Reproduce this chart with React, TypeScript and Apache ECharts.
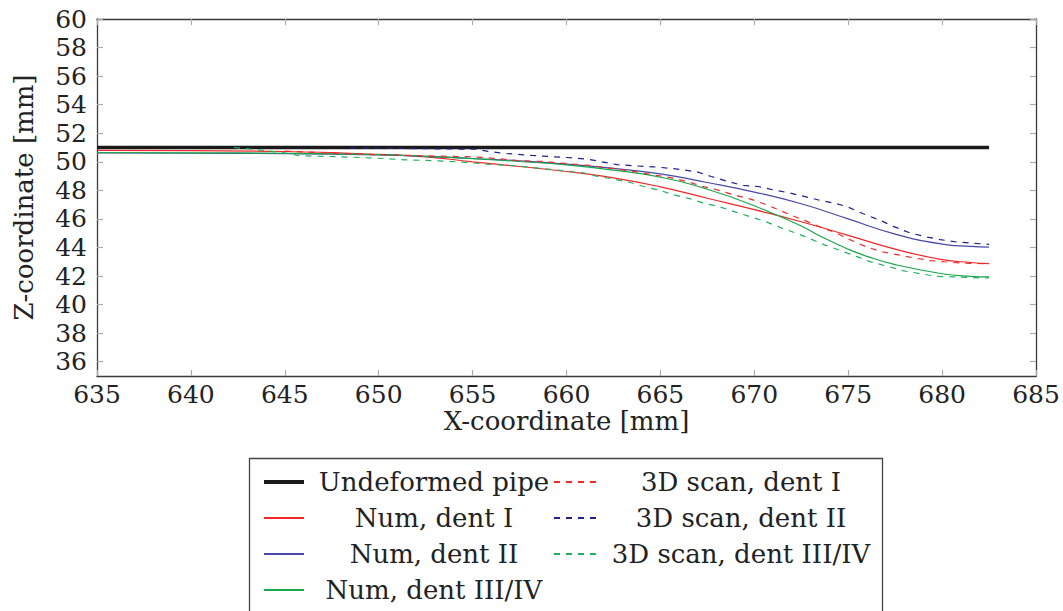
import React, { useEffect, useRef } from "react";
import * as echarts from "echarts";

const FONT = "DejaVu Serif";

const xTicks = [635, 640, 645, 650, 655, 660, 665, 670, 675, 680, 685];
const yTicks = [36, 38, 40, 42, 44, 46, 48, 50, 52, 54, 56, 58, 60];

const undeformedPipe = [[635, 51.0], [682.5, 51.0]];

const numDentI = [
  [635, 50.8], [640, 50.78], [645, 50.72], [650, 50.52], [652.5, 50.35], [655, 50.0],
  [657.5, 49.67], [660, 49.32], [662.5, 48.88], [665, 48.25], [667.5, 47.45], [670, 46.65],
  [672.5, 45.8], [675, 44.85], [677.5, 43.88], [680, 43.15], [681.5, 42.95], [682.5, 42.87],
];

const numDentII = [
  [635, 50.62], [640, 50.6], [645, 50.57], [650, 50.48], [652.5, 50.38], [655, 50.23],
  [657.5, 50.07], [660, 49.84], [662.5, 49.54], [665, 49.15], [667.5, 48.55], [670, 47.88],
  [672.5, 47.06], [675, 46.0], [677.5, 44.94], [680, 44.24], [681.5, 44.08], [682.5, 44.03],
];

const numDentIII = [
  [635, 50.65], [640, 50.63], [645, 50.6], [650, 50.5], [652.5, 50.38], [655, 50.22],
  [657.5, 50.02], [660, 49.78], [662.5, 49.42], [665, 48.92], [667.5, 48.08], [670, 46.92],
  [672.5, 45.5], [673.5, 44.8], [675, 43.88], [676, 43.38], [677.5, 42.8], [680, 42.16],
  [681.5, 41.98], [682.5, 41.94],
];

const scanDentI = [
  [645, 50.75], [647.5, 50.6], [650, 50.5], [652.5, 50.42], [655, 50.35], [655.6, 50.3],
  [656.5, 50.2], [657.4, 50.09], [658.8, 50.02], [659.5, 49.93], [661.3, 49.74], [662.3, 49.56],
  [663.6, 49.32], [664.6, 49.09], [665.7, 48.86], [666.6, 48.55], [667.1, 48.33], [668.0, 48.04],
  [668.9, 47.69], [669.8, 47.39], [670.5, 47.06], [671.2, 46.69], [671.9, 46.29], [672.8, 45.83],
  [673.5, 45.43], [674.4, 45.0], [675, 44.6], [675.9, 44.08], [676.7, 43.73], [677.6, 43.5],
  [678.5, 43.27], [679.4, 43.08], [680.1, 43.0], [680.9, 42.92], [682.5, 42.85],
];

const scanDentII = [
  [648.5, 50.97], [651.5, 50.93], [655.2, 50.88], [655.9, 50.72], [656.8, 50.58], [658.2, 50.44],
  [660.0, 50.3], [661.1, 50.19], [661.8, 50.02], [662.7, 49.8], [663.6, 49.72], [664.6, 49.65],
  [665.4, 49.56], [666.2, 49.44], [667.0, 49.28], [667.7, 48.97], [668.6, 48.62], [669.4, 48.34],
  [670.2, 48.27], [671.0, 48.04], [671.9, 47.81], [672.8, 47.53], [673.5, 47.3], [674.4, 47.06],
  [674.95, 46.85], [675.8, 46.36], [676.7, 45.9], [677.4, 45.48], [678.3, 45.01], [679.2, 44.73],
  [679.9, 44.55], [680.8, 44.38], [681.7, 44.29], [682.5, 44.22],
];

const scanDentIII = [
  [642.3, 51.0], [643.5, 50.85], [645, 50.62], [645.8, 50.42], [648, 50.35], [650, 50.25],
  [651.4, 50.14], [653.2, 50.07], [654.4, 49.98], [655.8, 49.84], [657.3, 49.72], [658.5, 49.56],
  [659.9, 49.37], [660.9, 49.22], [661.6, 49.0], [662.5, 48.79], [663.4, 48.55], [664.1, 48.27],
  [665.0, 47.99], [665.7, 47.69], [666.6, 47.4], [667.3, 47.11], [668.2, 46.83], [669.0, 46.48],
  [669.9, 46.11], [670.7, 45.76], [671.5, 45.34], [672.3, 44.97], [673.0, 44.6], [673.8, 44.15],
  [674.6, 43.78], [675.5, 43.34], [676.2, 42.99], [677.1, 42.68], [677.9, 42.38], [678.8, 42.17],
  [679.7, 41.98], [680.6, 41.94], [682.0, 41.87], [682.5, 41.87],
];

const DASH = [6, 6];

export default function App() {
  const ref = useRef<HTMLDivElement>(null);
  useEffect(() => {
    if (!ref.current) return;
    const chart = echarts.init(ref.current, null, { renderer: "svg" });
    const axisLineStyle = { color: "#3a3a3a", width: 1.3 };
    const tickStyle = { color: "#aaaaaa", width: 1.2 };
    const mkLine = (name: string, data: number[][], color: string, width: number, dashed: boolean, smooth: boolean) => ({
      name,
      type: "line",
      data,
      symbol: "none",
      showSymbol: false,
      smooth,
      lineStyle: { color, width, type: dashed ? DASH : "solid" },
      itemStyle: { color },
      xAxisIndex: 0,
      yAxisIndex: 0,
    });
    const legendText = (w: number) => ({
      rich: {
        a: { width: w, align: "center", fontSize: 26, fontFamily: FONT, color: "#222", lineHeight: 26 },
      },
    });
    chart.setOption({
      animation: false,
      backgroundColor: "#ffffff",
      grid: { left: 97, top: 19, right: 27, bottom: 235 },
      xAxis: [
        {
          type: "value", min: 635, max: 685, interval: 5, position: "bottom",
          name: "X-coordinate [mm]", nameLocation: "middle", nameGap: 34, nameMoveOverlap: false,
          nameTextStyle: { fontFamily: FONT, fontSize: 26, color: "#222", lineHeight: 22 },
          axisLine: { show: true, lineStyle: axisLineStyle },
          axisTick: { show: true, inside: true, length: 6, lineStyle: tickStyle },
          axisLabel: { show: true, fontFamily: FONT, fontSize: 25, color: "#222", margin: 8, lineHeight: 20, customValues: xTicks },
          splitLine: { show: false },
        },
        {
          type: "value", min: 635, max: 685, interval: 5, position: "top",
          axisLine: { show: true, onZero: false, lineStyle: axisLineStyle },
          axisTick: { show: true, inside: true, length: 6, lineStyle: tickStyle },
          axisLabel: { show: false },
          splitLine: { show: false },
        },
      ],
      yAxis: [
        {
          type: "value", min: 35, max: 60, position: "left",
          name: "Z-coordinate [mm]", nameLocation: "middle", nameGap: 60, nameMoveOverlap: false,
          nameTextStyle: { fontFamily: FONT, fontSize: 26, color: "#222" },
          axisLine: { show: true, lineStyle: axisLineStyle },
          axisTick: { show: true, inside: true, length: 6, lineStyle: tickStyle, customValues: yTicks },
          axisLabel: { show: true, fontFamily: FONT, fontSize: 25, color: "#222", margin: 10, customValues: yTicks },
          splitLine: { show: false },
        },
        {
          type: "value", min: 35, max: 60, position: "right",
          axisLine: { show: true, onZero: false, lineStyle: axisLineStyle },
          axisTick: { show: true, inside: true, length: 6, lineStyle: tickStyle, customValues: yTicks },
          axisLabel: { show: false, customValues: yTicks },
          splitLine: { show: false },
        },
      ],
      legend: [
        {
          orient: "vertical", left: 262, top: 469, padding: 0, itemGap: 10,
          itemWidth: 40, itemHeight: 14,
          itemStyle: { opacity: 0 },
          data: [
            { name: "Undeformed pipe", lineStyle: { width: 4 } },
            "Num, dent I", "Num, dent II", "Num, dent III/IV",
          ],
          formatter: (n: string) => "{a|" + n + "}",
          textStyle: legendText(250),
        },
        {
          orient: "vertical", left: 553, top: 469, padding: 0, itemGap: 10,
          itemWidth: 42, itemHeight: 14,
          itemStyle: { opacity: 0 },
          data: ["3D scan, dent I", "3D scan, dent II", "3D scan, dent III/IV"],
          formatter: (n: string) => "{a|" + n + "}",
          textStyle: legendText(280),
        },
      ],
      graphic: [
        {
          type: "rect", left: 247, top: 456, silent: true,
          shape: { width: 633, height: 200 },
          style: { fill: "none", stroke: "#444", lineWidth: 1.3 },
        },
      ],
      series: [
        mkLine("Undeformed pipe", undeformedPipe, "#1a1a1a", 3.5, false, false),
        mkLine("Num, dent I", numDentI, "#f02828", 1.2, false, true),
        mkLine("Num, dent II", numDentII, "#4848a8", 1.2, false, true),
        mkLine("Num, dent III/IV", numDentIII, "#18a84c", 1.2, false, true),
        mkLine("3D scan, dent I", scanDentI, "#f02828", 1.2, true, false),
        mkLine("3D scan, dent II", scanDentII, "#20208c", 1.2, true, false),
        mkLine("3D scan, dent III/IV", scanDentIII, "#20b060", 1.2, true, false),
      ],
    });
    return () => chart.dispose();
  }, []);
  return (
    <div
      ref={ref}
      style={{ position: "absolute", left: 0, top: 0, width: 1063, height: 611, background: "#fff" }}
    />
  );
}
